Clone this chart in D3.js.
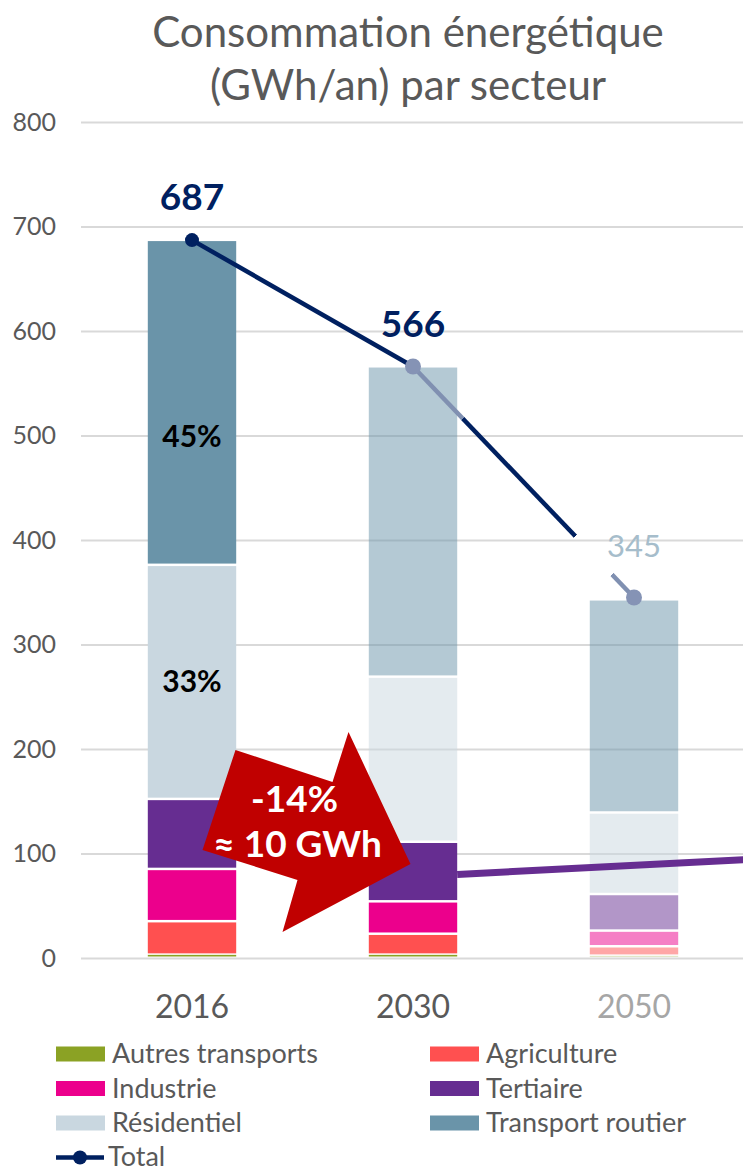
<!DOCTYPE html>
<html>
<head>
<meta charset="utf-8">
<script src="https://cdn.jsdelivr.net/npm/d3@7"></script>
<style>
  body { margin: 0; background: #fff; }
  svg { display: block; font-family: Lato, "Open Sans", sans-serif; }
</style>
</head>
<body>
<svg id="chart"></svg>
<script>
// data (GWh/an)
const years = ["2016", "2030", "2050"];
const sectors = ["Autres transports", "Agriculture", "Industrie", "Tertiaire", "Résidentiel", "Transport routier"];
const autres = [3, 3, 2];
const agriculture = [32, 20, 9];
const industrie = [50, 31, 15];
const tertiaire = [67, 57, 35];
const residentiel = [224, 158, 78];
const transport = [311, 297, 204];
const totals = [687, 566, 345];
const shareLabels = ["45%", "33%"];      // labels on the 2016 bar
const shareLabelAt = [500, 265];        // value where each label sits
const yTicks = [0, 100, 200, 300, 400, 500, 600, 700, 800];
const legendItems = ["Autres transports", "Agriculture", "Industrie", "Tertiaire", "Résidentiel", "Transport routier"];

const colors = {
    "Autres transports": "#8BA224",
    "Agriculture": "#FF5050",
    "Industrie": "#EC008C",
    "Tertiaire": "#662D91",
    "Résidentiel": "#C9D7E0",
    "Transport routier": "#6A94A9"
};
// which sectors are drawn faded for each year (projections)
const faded = {
    "2016": [],
    "2030": ["Résidentiel", "Transport routier"],
    "2050": sectors
};

const width = 743;
const height = 1172;
const navy = "#002060";

const svg = d3.select('#chart').attr('width', width).attr('height', height);

const x = d3.scaleBand().domain(years).range([81.5, 744.5]).paddingInner(0.6).paddingOuter(0.3);
const y = d3.scaleLinear().domain([0, 800]).range([958, 122]);

// title
svg.append('text')
    .attr('x', 408).attr('y', 47)
    .attr('text-anchor', 'middle')
    .style('font-size', '42px').style('fill', '#595959')
    .text('Consommation énergétique');
svg.append('text')
    .attr('x', 408).attr('y', 100)
    .attr('text-anchor', 'middle')
    .style('font-size', '42px').style('fill', '#595959')
    .text('(GWh/an) par secteur');

// gridlines
const grid = svg.append('g')
    .attr('transform', `translate(81,0)`)
    .call(d3.axisLeft(y).tickValues(yTicks).tickSize(-662).tickFormat(''));
grid.select('.domain').remove();
grid.selectAll('line').attr('stroke', '#D9D9D9').attr('stroke-width', 2);

// y tick labels
const yAxis = svg.append('g')
    .attr('transform', `translate(56,0)`)
    .call(d3.axisLeft(y).tickValues(yTicks).tickSize(0).tickPadding(0));
yAxis.select('.domain').remove();
yAxis.selectAll('text')
    .style('font-size', '25px').style('fill', '#595959')
    .style('font-family', 'Lato, "Open Sans", sans-serif');

// stacked bars
const rows = years.map((yr, i) => ({
    year: yr,
    "Autres transports": autres[i],
    "Agriculture": agriculture[i],
    "Industrie": industrie[i],
    "Tertiaire": tertiaire[i],
    "Résidentiel": residentiel[i],
    "Transport routier": transport[i]
}));
const stacked = d3.stack().keys(sectors)(rows);

const barGroup = svg.append('g');
stacked.forEach(layer => {
    barGroup.selectAll(null)
        .data(layer)
        .enter().append('rect')
        .attr('x', d => x(d.data.year))
        .attr('width', x.bandwidth())
        .attr('y', d => y(d[1]) + (layer.key === "Autres transports" ? 0 : 1))
        .attr('height', d => Math.max(0, y(d[0]) - y(d[1]) - (layer.key === "Autres transports" ? 1.5 : 2.5)))
        .attr('fill', colors[layer.key])
        .attr('fill-opacity', d => faded[d.data.year].includes(layer.key) ? 0.5 : 1);
});

// share labels on the 2016 bar
svg.selectAll('text.share')
    .data(shareLabels)
    .enter().append('text')
    .attr('class', 'share')
    .attr('x', x(years[0]) + x.bandwidth() / 2)
    .attr('y', (d, i) => y(shareLabelAt[i]) + 11)
    .attr('text-anchor', 'middle')
    .style('font-size', '30px').style('font-weight', 'bold').style('fill', '#000')
    .text(d => d);

// purple annotation line (tertiaire trend)
const trendStart = 80;
const trendEnd = 94;
svg.append('line')
    .attr('x1', x("2030") + x.bandwidth())
    .attr('y1', y(trendStart))
    .attr('x2', x.range()[1])
    .attr('y2', y(trendEnd))
    .attr('stroke', '#662D91')
    .attr('stroke-width', 7);

// red arrow annotation
const arrowShape = [[-71, -91], [26, -59], [42, -109], [104, 23], [-24, 91], [-9, 39], [-104, 9]];
const arrow = svg.append('g')
    .attr('transform', `translate(${(x("2016") + x("2030") + x.bandwidth()) / 2 + 4},${y(112)})`);
arrow.append('polygon')
    .attr('points', arrowShape.map(p => p.join(',')).join(' '))
    .attr('fill', '#C00000');
arrow.append('text')
    .attr('x', -12).attr('y', -29)
    .attr('text-anchor', 'middle')
    .style('font-size', '37px').style('font-weight', 'bold').style('fill', '#fff')
    .text('-14%');
arrow.append('text')
    .attr('x', -9).attr('y', 16)
    .attr('text-anchor', 'middle')
    .style('font-size', '37px').style('font-weight', 'bold').style('fill', '#fff')
    .text('≈ 10 GWh');

// total line
const cx = yr => x(yr) + x.bandwidth() / 2;
const pts = years.map((yr, i) => [cx(yr), y(totals[i])]);

const defs = svg.append('defs');
const grad = defs.append('linearGradient')
    .attr('id', 'futureLine')
    .attr('gradientUnits', 'userSpaceOnUse')
    .attr('x1', pts[1][0]).attr('y1', pts[1][1])
    .attr('x2', pts[2][0]).attr('y2', pts[2][1]);
[[0, '#8090B1', 1], [0.226, '#8090B1', 1], [0.226, navy, 1], [0.735, navy, 1],
 [0.735, '#fff', 0], [0.9, '#fff', 0], [0.9, '#8090B1', 1], [1, '#8090B1', 1]]
    .forEach(s => grad.append('stop').attr('offset', s[0]).attr('stop-color', s[1]).attr('stop-opacity', s[2]));

svg.append('line')
    .attr('x1', pts[0][0]).attr('y1', pts[0][1])
    .attr('x2', pts[1][0]).attr('y2', pts[1][1])
    .attr('stroke', navy).attr('stroke-width', 4.5);
svg.append('line')
    .attr('x1', pts[1][0]).attr('y1', pts[1][1])
    .attr('x2', pts[2][0]).attr('y2', pts[2][1])
    .attr('stroke', 'url(#futureLine)').attr('stroke-width', 4.5);

svg.selectAll('circle.total')
    .data(pts)
    .enter().append('circle')
    .attr('class', 'total')
    .attr('cx', d => d[0]).attr('cy', d => d[1])
    .attr('r', (d, i) => i === 0 ? 7 : 8)
    .attr('fill', (d, i) => i === 0 ? navy : '#8593B5');

// total value labels
svg.selectAll('text.total')
    .data(totals)
    .enter().append('text')
    .attr('class', 'total')
    .attr('x', (d, i) => cx(years[i]))
    .attr('y', (d, i) => y(d) - (i === 2 ? 40 : 30))
    .attr('text-anchor', 'middle')
    .style('font-size', (d, i) => i === 2 ? '31px' : '37px')
    .style('font-weight', (d, i) => i === 2 ? 'normal' : 'bold')
    .style('fill', (d, i) => i === 2 ? '#A6BDCB' : navy)
    .text(d => d);

// x category labels
svg.selectAll('text.year')
    .data(years)
    .enter().append('text')
    .attr('class', 'year')
    .attr('x', d => cx(d))
    .attr('y', 1018)
    .attr('text-anchor', 'middle')
    .style('font-size', '32px')
    .style('fill', d => d === "2050" ? '#A6A6A6' : '#595959')
    .text(d => d);

// legend
const legend = svg.append('g');
const rowGap = 34.5;
legendItems.forEach((name, i) => {
    const lx = i % 2 === 0 ? 56 : 430;
    const ly = 1054 + Math.floor(i / 2) * rowGap;
    legend.append('rect')
        .attr('x', lx).attr('y', ly - 7.5)
        .attr('width', 49).attr('height', 15)
        .attr('fill', colors[name]);
    legend.append('text')
        .attr('x', lx + 56).attr('y', ly + 9)
        .style('font-size', '27px').style('fill', '#595959')
        .text(name);
});
const tly = 1054 + 3 * rowGap;
legend.append('line')
    .attr('x1', 56).attr('x2', 104).attr('y1', tly).attr('y2', tly)
    .attr('stroke', navy).attr('stroke-width', 4.5);
legend.append('circle')
    .attr('cx', 80).attr('cy', tly).attr('r', 7).attr('fill', navy);
legend.append('text')
    .attr('x', 108).attr('y', tly + 8)
    .style('font-size', '27px').style('fill', '#595959')
    .text('Total');
</script>
</body>
</html>
